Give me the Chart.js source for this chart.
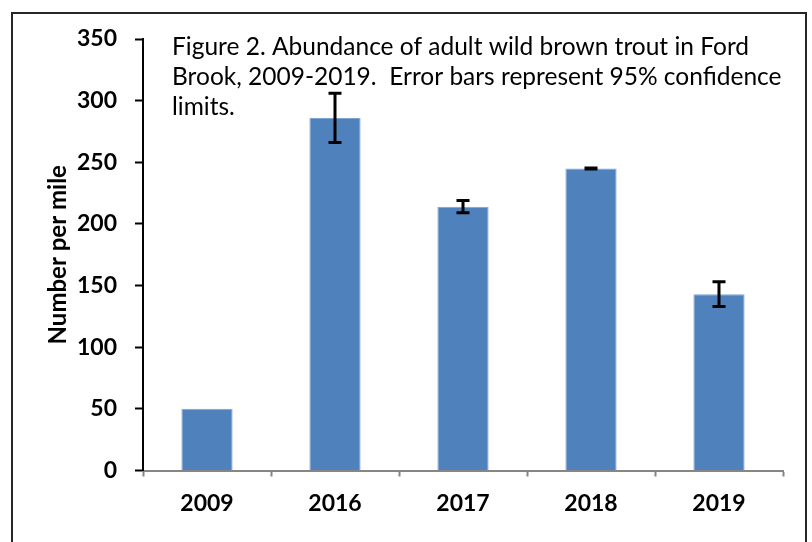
<!DOCTYPE html>
<html>
<head>
<meta charset="utf-8">
<script src="https://cdn.jsdelivr.net/npm/chart.js@4/dist/chart.umd.min.js"></script>
<style>
  html, body { margin: 0; padding: 0; background: #fff; }
  #wrap { position: relative; width: 812px; height: 542px; }
</style>
</head>
<body>
<div id="wrap"><canvas id="c" width="812" height="542"></canvas></div>
<script>
const categories = ['2009', '2016', '2017', '2018', '2019'];
const abundance = [50, 286, 214, 245, 143];
const ci95 = [0, 20, 5, 0.4, 10];
const yTicks = [0, 50, 100, 150, 200, 250, 300, 350];
const titleLines = [
  'Figure 2. Abundance of adult wild brown trout in Ford',
  'Brook, 2009-2019.  Error bars represent 95% confidence',
  'limits.'
];
const yAxisTitle = 'Number per mile';

const FONT = 'Lato, "Open Sans", "Liberation Sans", sans-serif';

const frameAndTitle = {
  id: 'frameAndTitle',
  afterDraw(chart) {
    const ctx = chart.ctx;
    ctx.save();
    ctx.strokeStyle = '#262626';
    ctx.lineWidth = 2;
    ctx.strokeRect(12, 13, 794, 600);
    ctx.fillStyle = '#000';
    ctx.font = '24.5px ' + FONT;
    ctx.textAlign = 'left';
    ctx.textBaseline = 'alphabetic';
    titleLines.forEach((t, i) => ctx.fillText(t, 172, 55 + i * 30));
    ctx.restore();
  }
};

const errorBars = {
  id: 'errorBars',
  afterDatasetsDraw(chart) {
    const ctx = chart.ctx;
    const meta = chart.getDatasetMeta(0);
    const ys = chart.scales.y;
    ctx.save();
    ctx.strokeStyle = '#000';
    ctx.lineWidth = 3;
    meta.data.forEach((bar, i) => {
      const e = ci95[i];
      if (!e) return;
      const x = bar.x;
      const hi = ys.getPixelForValue(abundance[i] + e);
      const lo = ys.getPixelForValue(abundance[i] - e);
      ctx.beginPath();
      ctx.moveTo(x, hi); ctx.lineTo(x, lo);
      ctx.moveTo(x - 6.5, hi); ctx.lineTo(x + 6.5, hi);
      ctx.moveTo(x - 6.5, lo); ctx.lineTo(x + 6.5, lo);
      ctx.stroke();
    });
    ctx.restore();
  }
};

new Chart(document.getElementById('c'), {
  type: 'bar',
  data: {
    labels: categories,
    datasets: [{
      data: abundance,
      backgroundColor: '#4F81BD',
      borderColor: '#7FA3D2',
      borderWidth: 1,
      categoryPercentage: 1.0,
      barPercentage: 0.4
    }]
  },
  options: {
    responsive: false,
    animation: false,
    devicePixelRatio: 1,
    layout: { padding: { left: 34, right: 29, top: 39, bottom: 0 } },
    plugins: { legend: { display: false }, tooltip: { enabled: false } },
    scales: {
      x: {
        grid: { display: true, drawOnChartArea: false, offset: true, tickLength: 6, tickColor: '#868686', tickWidth: 2 },
        border: { display: true, color: '#868686', width: 2 },
        ticks: { color: '#000', font: { family: FONT, size: 23, weight: 'bold' }, padding: 13, maxRotation: 0 },
        afterFit(s) { s.height = 542 - 470.5; }
      },
      y: {
        min: 0, max: 350,
        afterBuildTicks(s) { s.ticks = yTicks.map(v => ({ value: v })); },
        grid: { display: true, drawOnChartArea: false, tickLength: 8, tickColor: '#000', tickWidth: 2 },
        border: { display: true, color: '#000', width: 2 },
        ticks: { color: '#000', font: { family: FONT, size: 23, weight: 'bold' }, padding: 18 },
        title: { display: true, text: yAxisTitle, color: '#000', font: { family: FONT, size: 24, weight: 'bold' }, padding: { top: 10, bottom: 0 } },
        afterFit(s) { s.width = 143 - 34; }
      }
    }
  },
  plugins: [frameAndTitle, errorBars]
});
</script>
</body>
</html>
